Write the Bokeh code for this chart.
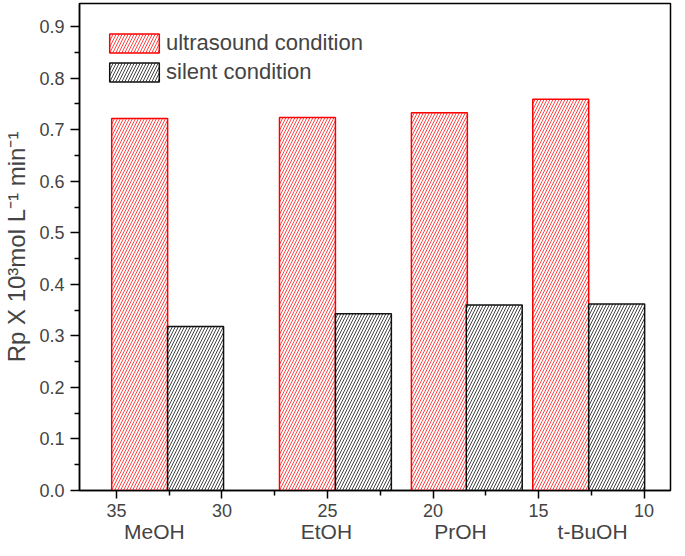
from bokeh.plotting import figure
from bokeh.models import (Range1d, FixedTicker, LinearAxis, PrintfTickFormatter,
                          Legend, LegendItem, ColumnDataSource)
from bokeh.embed import file_html
from bokeh.resources import INLINE

# ---- data ----
categories = ["MeOH", "EtOH", "PrOH", "t-BuOH"]
category_x = [33.2, 25.05, 18.7, 12.44]
ultrasound_x = [33.9, 25.95, 19.7, 13.95]
ultrasound_rp = [0.722, 0.724, 0.733, 0.759]
silent_x = [31.25, 23.3, 17.1, 11.3]
silent_rp = [0.318, 0.343, 0.360, 0.362]
bar_width = 2.65
x_major_ticks = [35, 30, 25, 20, 15, 10]
x_minor_ticks = [32.5, 27.5, 22.5, 17.5, 12.5]
y_major_ticks = [0.0, 0.1, 0.2, 0.3, 0.4, 0.5, 0.6, 0.7, 0.8, 0.9]
y_minor_ticks = [0.05, 0.15, 0.25, 0.35, 0.45, 0.55, 0.65, 0.75, 0.85]

FONT = "Liberation Sans"

p = figure(width=677, height=548, output_backend="svg", toolbar_location=None,
           x_range=Range1d(36.75, 8.75), y_range=Range1d(0, 0.945),
           x_axis_location=None, y_axis_location=None,
           min_border_left=79, min_border_right=7, min_border_top=3, min_border_bottom=58)
p.grid.visible = False
p.outline_line_color = "black"
p.outline_line_width = 1.5
p.background_fill_color = "white"

src_u = ColumnDataSource(dict(x=ultrasound_x, top=ultrasound_rp))
src_s = ColumnDataSource(dict(x=silent_x, top=silent_rp))

r_u = p.vbar(x="x", top="top", bottom=0, width=bar_width, source=src_u,
             fill_color="white", line_color="#ff0000", line_width=1.5,
             hatch_pattern="/", hatch_color="#ff4444", hatch_scale=6, hatch_weight=1)
r_s = p.vbar(x="x", top="top", bottom=0, width=bar_width, source=src_s,
             fill_color="white", line_color="#111111", line_width=1.5,
             hatch_pattern="/", hatch_color="#444444", hatch_scale=6, hatch_weight=1)

# y axis
yax = LinearAxis(ticker=FixedTicker(ticks=y_major_ticks, minor_ticks=y_minor_ticks),
                 formatter=PrintfTickFormatter(format="%.1f"))
yax.axis_label = "Rp X 10\u00b3mol L\u207b\u00b9 min\u207b\u00b9"
yax.axis_label_text_font = FONT
yax.axis_label_text_font_size = "24px"
yax.axis_label_text_font_style = "normal"
yax.axis_label_standoff = 6
yax.major_label_text_font = FONT
yax.major_label_text_font_size = "18px"
yax.major_label_standoff = 6
yax.major_tick_out = 9
yax.major_tick_in = 0
yax.minor_tick_out = 5
yax.minor_tick_in = 0
yax.axis_line_width = 1.5
yax.major_tick_line_width = 1.5
yax.minor_tick_line_width = 1.5
p.add_layout(yax, "left")

# x axis
xax = LinearAxis(ticker=FixedTicker(ticks=x_major_ticks, minor_ticks=x_minor_ticks))
xax.major_label_text_font = FONT
xax.major_label_text_font_size = "18px"
xax.major_label_standoff = 5
xax.major_tick_out = 8
xax.major_tick_in = 0
xax.minor_tick_out = 5
xax.minor_tick_in = 0
xax.axis_line_width = 1.5
xax.major_tick_line_width = 1.5
xax.minor_tick_line_width = 1.5
p.add_layout(xax, "below")

# category names below the numeric tick labels
cax = LinearAxis(ticker=FixedTicker(ticks=category_x),
                 major_label_overrides={x: c for x, c in zip(category_x, categories)})
cax.axis_line_color = None
cax.major_tick_line_color = None
cax.minor_tick_line_color = None
cax.major_tick_out = 0
cax.major_tick_in = 0
cax.minor_tick_out = 0
cax.minor_tick_in = 0
cax.major_label_standoff = 0
cax.major_label_text_font = FONT
cax.major_label_text_font_size = "21px"
p.add_layout(cax, "below")

legend = Legend(items=[LegendItem(label="ultrasound condition", renderers=[r_u]),
                       LegendItem(label="silent condition", renderers=[r_s])],
                location=(24, 405))
legend.border_line_color = None
legend.background_fill_alpha = 0
legend.margin = 0
legend.padding = 0
legend.glyph_width = 62
legend.glyph_height = 24
legend.label_height = 24
legend.label_standoff = 1
legend.spacing = 3
legend.label_text_font = FONT
legend.label_text_font_size = "22px"
p.add_layout(legend)

open("out.html", "w").write(file_html(p, INLINE))
